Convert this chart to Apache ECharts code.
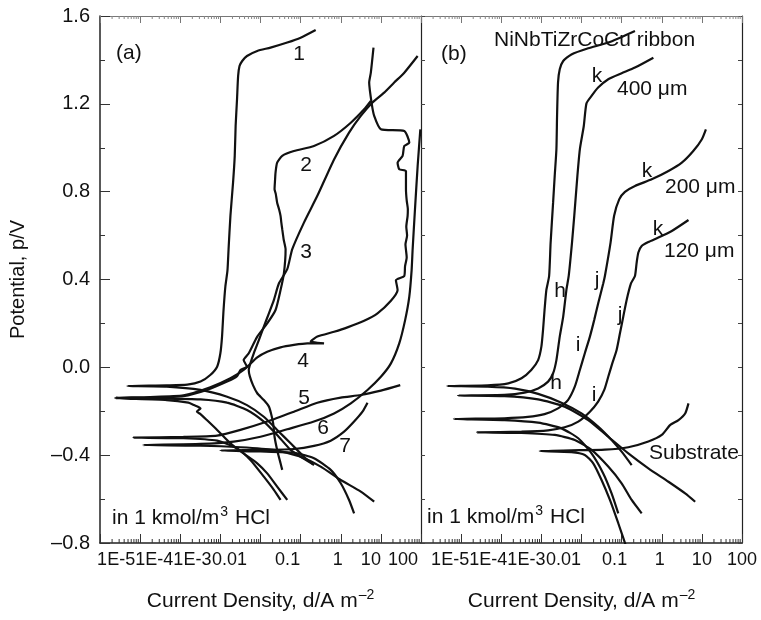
<!DOCTYPE html>
<html>
<head>
<meta charset="utf-8">
<title>Polarization curves</title>
<script src="https://cdn.jsdelivr.net/npm/echarts@6/dist/echarts.min.js"></script>
<style>
  html, body { margin: 0; padding: 0; background: #fff; }
  #chart { width: 761px; height: 620px; }
</style>
</head>
<body>
<div id="chart"></div>
<script>
// every curve is [current density (A/m2), potential (V)] in drawing order:
// cathodic tail -> corrosion potential -> anodic end

// panel (a)
const curveA1 = [
  [0.215, -0.445], [0.121, -0.407], [0.0562, -0.346], [0.026, -0.285], [0.0121, -0.225], [4.6e-3, -0.172],
  [1.47e-3, -0.134], [3.2e-4, -0.103], [4.6e-5, -0.088], [4.8e-6, -0.085],
  [4.6e-5, -0.082], [1.5e-4, -0.079], [3.2e-4, -0.065], [5.6e-4, -0.035], [8.3e-4, 0.003], [1.0e-3, 0.064],
  [1.1e-3, 0.14], [1.2e-3, 0.261], [1.33e-3, 0.367], [1.5e-3, 0.44], [1.6e-3, 0.538], [1.78e-3, 0.69],
  [2.07e-3, 0.841], [2.28e-3, 0.963], [2.4e-3, 1.099], [2.6e-3, 1.221], [2.77e-3, 1.327], [3.0e-3, 1.372],
  [3.5e-3, 1.395], [4.6e-3, 1.418], [8.3e-3, 1.441], [0.0178, 1.456], [0.0464, 1.479], [0.1, 1.501], [0.237, 1.536]
];
const curveA2 = [
  [0.0464, -0.604], [0.026, -0.543], [0.0147, -0.483], [8.3e-3, -0.437], [3.8e-3, -0.392], [1.78e-3, -0.346],
  [8.3e-4, -0.285], [4.6e-4, -0.24], [3.2e-4, -0.213], [2.6e-4, -0.202], [3.2e-4, -0.187], [2.2e-4, -0.172],
  [1.6e-4, -0.161], [4.6e-5, -0.149], [2.4e-6, -0.141],
  [1.8e-5, -0.138], [1.2e-4, -0.131], [4.6e-4, -0.103], [1.47e-3, -0.065], [2.6e-3, -0.04], [3.16e-3, -0.012],
  [4.6e-3, 0.003], [3.8e-3, 0.033], [5.1e-3, 0.064], [8.3e-3, 0.14], [0.0147, 0.2], [0.0237, 0.261],
  [0.0316, 0.352], [0.0383, 0.428], [0.0422, 0.538], [0.038, 0.58], [0.0348, 0.629], [0.033, 0.66],
  [0.0316, 0.69], [0.029, 0.72], [0.026, 0.75], [0.024, 0.79], [0.0224, 0.811], [0.023, 0.85],
  [0.0237, 0.887], [0.026, 0.932], [0.0348, 0.963], [0.0681, 0.985], [0.215, 1.008], [0.681, 1.054],
  [1.78, 1.114], [3.83, 1.175], [5.62, 1.213]
];
const curveA3 = [
  [0.0348, -0.467], [0.0316, -0.437], [0.026, -0.376], [0.0224, -0.316], [0.0207, -0.255], [0.0183, -0.21],
  [0.0162, -0.179], [0.0121, -0.149], [8.3e-3, -0.118], [6.5e-3, -0.081], [5.4e-3, -0.04], [5.1e-3, -0.012],
  [5.6e-3, 0.018], [6.8e-3, 0.064], [9.1e-3, 0.124], [0.0121, 0.185], [0.0162, 0.246], [0.0215, 0.306],
  [0.0287, 0.382], [0.0464, 0.447], [0.0619, 0.538], [0.121, 0.659], [0.261, 0.781], [0.681, 0.947],
  [1.61, 1.069], [3.16, 1.145], [6.1, 1.205], [12.1, 1.251], [21.5, 1.297], [38.3, 1.342], [82.5, 1.418]
];
const curveA4 = [
  [0.2, -0.44], [0.1, -0.407], [0.0562, -0.376], [0.026, -0.308], [0.0121, -0.247], [4.6e-3, -0.194],
  [1.47e-3, -0.161], [3.2e-4, -0.146], [4.6e-5, -0.143], [2.4e-6, -0.138],
  [1.8e-5, -0.135], [1.2e-4, -0.128], [5.6e-4, -0.091], [1.78e-3, -0.05], [3.8e-3, -0.012], [8.3e-3, 0.045],
  [0.0147, 0.071], [0.0316, 0.091], [0.0681, 0.102], [0.147, 0.109], [0.383, 0.109], [0.178, 0.118],
  [0.261, 0.14], [0.681, 0.162], [1.47, 0.182], [3.83, 0.212], [8.25, 0.246], [17.8, 0.303], [26.1, 0.352],
  [23.7, 0.397], [38.3, 0.416], [40, 0.46], [44, 0.5], [41, 0.56], [45, 0.6], [43, 0.64], [46.4, 0.69],
  [47, 0.72], [44, 0.76], [42.2, 0.811], [42.2, 0.894], [28.7, 0.902],
  [26.1, 0.932], [34.8, 0.963], [38.3, 1.008], [51.1, 1.023], [38.3, 1.076], [10, 1.084], [6.81, 1.145],
  [5.9, 1.202], [5.11, 1.297], [5.62, 1.342], [6.55, 1.456]
];
const curveA5 = [
  [0.0316, -0.604], [0.0215, -0.558], [0.0121, -0.498], [5.6e-3, -0.422], [2.6e-3, -0.369], [8.3e-4, -0.334],
  [1.2e-4, -0.323], [6.8e-6, -0.32],
  [1.2e-4, -0.317], [8.3e-4, -0.311], [3.16e-3, -0.285], [0.0147, -0.247], [0.0681, -0.202], [0.261, -0.161],
  [1.0, -0.138], [3.16, -0.126], [10, -0.106], [30.4, -0.081]
];
const curveA6 = [
  [6.81, -0.612], [3.16, -0.566], [1.0, -0.513], [0.316, -0.452], [0.1, -0.407], [0.0215, -0.376],
  [3.16e-3, -0.364], [3.2e-4, -0.357], [1.2e-5, -0.354],
  [3.2e-4, -0.349], [2.15e-3, -0.338], [0.01, -0.316], [0.0464, -0.282], [0.215, -0.247], [0.681, -0.21],
  [1.78, -0.164], [4.64, -0.103], [10, -0.043], [17.8, 0.018], [28.7, 0.109], [40.2, 0.215], [51.1, 0.322],
  [58.4, 0.443], [61.9, 0.538], [70.8, 0.72], [82.5, 0.917], [96.3, 1.084]
];
const curveA7 = [
  [2.15, -0.665], [1.61, -0.604], [1.0, -0.528], [0.562, -0.467], [0.215, -0.414], [0.0681, -0.389],
  [0.01, -0.383], [1.0e-3, -0.379],
  [0.01, -0.376], [0.0681, -0.372], [0.215, -0.358], [0.562, -0.334], [1.21, -0.293], [2.15, -0.247],
  [3.48, -0.202], [4.64, -0.161]
];

// panel (b)
const curveRibbon = [
  [0.178, -0.445], [0.1, -0.384], [0.0562, -0.331], [0.026, -0.27], [0.01, -0.21], [3.16e-3, -0.161],
  [8.3e-4, -0.121], [2.2e-4, -0.097], [4.6e-5, -0.088], [4.5e-6, -0.085],
  [4.6e-5, -0.082], [1.5e-4, -0.073], [3.2e-4, -0.05], [5.6e-4, -0.012], [8.3e-4, 0.033], [1.0e-3, 0.094],
  [1.1e-3, 0.17], [1.2e-3, 0.261], [1.33e-3, 0.352], [1.56e-3, 0.416], [1.7e-3, 0.568], [1.96e-3, 0.75],
  [2.15e-3, 0.872], [2.37e-3, 0.993], [2.46e-3, 1.145], [2.6e-3, 1.297], [2.87e-3, 1.357], [3.5e-3, 1.395],
  [5.6e-3, 1.425], [0.0147, 1.453], [0.0464, 1.479], [0.215, 1.532]
];
const curve400 = [
  [6.81, -0.612], [3.83, -0.574], [1.47, -0.521], [0.464, -0.46], [0.147, -0.392], [0.0464, -0.316],
  [0.0147, -0.24], [3.8e-3, -0.179], [8.3e-4, -0.146], [1.2e-4, -0.131], [8.3e-6, -0.128],
  [1.2e-4, -0.125], [3.8e-4, -0.115], [8.3e-4, -0.096], [1.47e-3, -0.065], [1.96e-3, -0.027], [2.37e-3, 0.033],
  [2.87e-3, 0.14], [3.5e-3, 0.231], [4.2e-3, 0.352], [4.8e-3, 0.416], [5.8e-3, 0.568], [6.6e-3, 0.69],
  [7.9e-3, 0.872], [9.1e-3, 0.993], [0.0114, 1.099], [0.0133, 1.202], [0.0178, 1.236], [0.026, 1.274],
  [0.0464, 1.312], [0.1, 1.339], [0.215, 1.365], [0.619, 1.41]
];
const curve200 = [
  [0.0825, -0.665], [0.0562, -0.574], [0.0348, -0.483], [0.0178, -0.392], [8.3e-3, -0.323], [3.16e-3, -0.278],
  [8.3e-4, -0.252], [1.2e-4, -0.24], [6.6e-6, -0.235],
  [1.2e-4, -0.232], [4.6e-4, -0.226], [1.2e-3, -0.213], [2.6e-3, -0.187], [4.6e-3, -0.149], [6.8e-3, -0.088],
  [9.1e-3, -0.012], [0.0121, 0.064], [0.0162, 0.14], [0.0207, 0.215], [0.026, 0.291], [0.0348, 0.382],
  [0.0383, 0.416], [0.053, 0.568], [0.065, 0.69], [0.087, 0.765], [0.121, 0.799], [0.215, 0.826],
  [0.562, 0.856], [1.47, 0.894], [3.16, 0.932], [6.1, 0.985], [10, 1.039], [12.6, 1.084]
];
const curve120 = [
  [0.316, -0.665], [0.178, -0.604], [0.1, -0.528], [0.0464, -0.452], [0.0178, -0.376], [6.8e-3, -0.331],
  [2.15e-3, -0.308], [3.2e-4, -0.299], [2.5e-5, -0.296],
  [3.2e-4, -0.293], [1.47e-3, -0.287], [3.8e-3, -0.273], [8.3e-3, -0.247], [0.0162, -0.202], [0.026, -0.156],
  [0.0369, -0.103], [0.0464, -0.043], [0.0585, 0.018], [0.075, 0.079], [0.0908, 0.155], [0.11, 0.231],
  [0.133, 0.306], [0.171, 0.382], [0.215, 0.416], [0.237, 0.477], [0.261, 0.523], [0.316, 0.553],
  [0.464, 0.571], [0.825, 0.591], [1.78, 0.621], [4.64, 0.671]
];
const curveSubstrate = [
  [0.147, -0.847], [0.126, -0.809], [0.0825, -0.71], [0.0511, -0.604], [0.0316, -0.513], [0.0196, -0.437],
  [0.0121, -0.399], [5.6e-3, -0.386], [9.1e-4, -0.381],
  [5.6e-3, -0.378], [0.0383, -0.375], [0.147, -0.364], [0.464, -0.338], [1.0, -0.308], [1.61, -0.263],
  [2.61, -0.24], [3.83, -0.21], [4.64, -0.164]
];

// axis labels, one per decade starting at 1E-6
const xTickLabels = ['', '1E-5', '1E-4', '1E-3', '0.01', '0.1', '1', '10', '100'];
const minorSteps = [2, 3, 4, 5, 6, 7, 8, 9];

const FONT = '"Liberation Sans", Arial, Helvetica, sans-serif';
const INK = '#111111';

// the figure's tick labels sit a little left of their ticks
const labelShiftA = [0, 24, 26, 28, 31, 13, 3, 10, 18];
const labelShiftB = [0, 11, 13, 15, 18, 7, 2, 0, 0];

function tickRich(shifts) {
  const rich = {};
  shifts.forEach((s, k) => {
    rich['s' + k] = { fontSize: 18, fontFamily: FONT, color: INK, padding: [0, 2 * s, 0, 0] };
  });
  return rich;
}

const xName = 'Current Density, d/A m{sup|\u20132}';
const xNameStyle = {
  fontSize: 21, fontFamily: FONT, color: INK,
  rich: {
    sup: { fontSize: 14, fontFamily: FONT, color: INK, padding: [0, 0, 12, 1] }
  }
};

function bottomAxis(grid, shifts) {
  return {
    gridIndex: grid, type: 'log', logBase: 10, min: 1e-6, max: 100, splitNumber: 8,
    position: 'bottom',
    axisLine: { show: true, onZero: false, lineStyle: { color: '#222', width: 1.5 } },
    axisTick: { show: true, inside: true, length: 9, lineStyle: { color: '#333', width: 1 } },
    splitLine: { show: false },
    axisLabel: {
      show: true, margin: 8, fontSize: 18, fontFamily: FONT, color: INK,
      formatter: v => {
        const k = Math.round(Math.log10(v)) + 6;
        const t = xTickLabels[k];
        return t ? '{s' + k + '|' + t + '}' : '';
      },
      rich: tickRich(shifts)
    },
    name: xName, nameLocation: 'middle', nameGap: 45, nameTextStyle: xNameStyle
  };
}

function topAxis(grid) {
  return {
    gridIndex: grid, type: 'log', logBase: 10, min: 1e-6, max: 100, splitNumber: 8,
    position: 'top',
    axisLine: { show: true, onZero: false, lineStyle: { color: '#777', width: 1 } },
    axisTick: { show: true, inside: true, length: 7, lineStyle: { color: '#777', width: 1 } },
    splitLine: { show: false },
    axisLabel: { show: false }
  };
}

function sideAxis(grid, pos) {
  return {
    gridIndex: grid, type: 'value', min: -0.8, max: 1.6, interval: 0.2, position: pos,
    axisLine: { show: true, onZero: false, lineStyle: { color: '#222', width: 1.2 } },
    axisTick: { show: true, inside: true, length: 4, lineStyle: { color: '#444', width: 1 } },
    splitLine: { show: false },
    axisLabel: { show: false }
  };
}

function curve(name, data, panel) {
  return {
    name: name, type: 'line', xAxisIndex: panel, yAxisIndex: panel,
    data: data, showSymbol: false, symbol: 'none', smooth: 0.2,
    lineStyle: { color: INK, width: 2.2 }, silent: true, z: 3
  };
}

function minorTicks(panel) {
  return {
    type: 'custom', xAxisIndex: panel, yAxisIndex: panel, silent: true, clip: false,
    data: [[1, 0]],
    renderItem: (params, api) => {
      const children = [];
      for (let e = -6; e < 2; e++) {
        minorSteps.forEach(m => {
          const v = m * Math.pow(10, e);
          const b = api.coord([v, -0.8]);
          const t = api.coord([v, 1.6]);
          children.push({ type: 'line', shape: { x1: b[0], y1: b[1], x2: b[0], y2: b[1] - 4 },
            style: { stroke: '#333', lineWidth: 1 } });
          children.push({ type: 'line', shape: { x1: t[0], y1: t[1], x2: t[0], y2: t[1] + 3 },
            style: { stroke: '#888', lineWidth: 1 } });
        });
      }
      return { type: 'group', children: children };
    }
  };
}

const hclText = '{n|in 1 kmol/m}{s|3}{n| HCl}';

// text placed on the figure: [text, x, y, align]
const notes = [
  ['(a)', 116, 53, 'left'], ['1', 299, 54, 'center'], ['2', 306, 165, 'center'], ['3', 306, 252, 'center'],
  ['4', 303, 361, 'center'], ['5', 304, 398, 'center'], ['6', 323, 428, 'center'], ['7', 345, 446, 'center'],
  [hclText, 112, 518, 'left'],
  ['(b)', 441, 54, 'left'], ['NiNbTiZrCoCu ribbon', 494, 40, 'left'],
  ['k', 597, 76, 'center'], ['400 \u03bcm', 617, 89, 'left'],
  ['k', 647, 171, 'center'], ['200 \u03bcm', 665, 187, 'left'],
  ['k', 658, 229, 'center'], ['120 \u03bcm', 664, 251, 'left'],
  ['h', 560, 291, 'center'], ['j', 597, 280, 'center'], ['j', 620, 315, 'center'],
  ['i', 578, 345, 'center'], ['h', 556, 383, 'center'], ['i', 594, 395, 'center'],
  ['Substrate', 649, 453, 'left'],
  [hclText, 427, 517, 'left']
];

const noteRich = {
  n: { fontSize: 21, fontFamily: FONT, fill: INK, color: INK },
  s: { fontSize: 14, fontFamily: FONT, fill: INK, color: INK, padding: [0, 1, 12, 1] }
};

const chart = echarts.init(document.getElementById('chart'), null, { renderer: 'canvas' });

chart.setOption({
  backgroundColor: '#ffffff',
  animation: false,
  textStyle: { fontFamily: FONT },
  grid: [
    { left: 100, top: 16, width: 321, height: 527, show: false },
    { left: 421, top: 16, width: 321, height: 527, show: false }
  ],
  xAxis: [bottomAxis(0, labelShiftA), bottomAxis(1, labelShiftB), topAxis(0), topAxis(1)],
  yAxis: [
    {
      gridIndex: 0, type: 'value', min: -0.8, max: 1.6, interval: 0.4, position: 'left',
      axisLine: { show: true, onZero: false, lineStyle: { color: '#222', width: 1.5 } },
      axisTick: { show: true, inside: true, length: 10, lineStyle: { color: '#333', width: 1 } },
      minorTick: { show: true, splitNumber: 2, length: 5, lineStyle: { color: '#333', width: 1 } },
      splitLine: { show: false },
      axisLabel: {
        margin: 10, fontSize: 20, fontFamily: FONT, color: INK,
        formatter: v => Math.abs(v) < 1e-9 ? '0.0' : v.toFixed(1).replace('-', '\u2013')
      },
      name: 'Potential, p/V', nameLocation: 'middle', nameGap: 72,
      nameTextStyle: { fontSize: 20, fontFamily: FONT, color: INK }
    },
    sideAxis(1, 'left'),
    sideAxis(1, 'right')
  ],
  series: [
    curve('1', curveA1, 0), curve('2', curveA2, 0), curve('3', curveA3, 0), curve('4', curveA4, 0),
    curve('5', curveA5, 0), curve('6', curveA6, 0), curve('7', curveA7, 0),
    curve('NiNbTiZrCoCu ribbon', curveRibbon, 1), curve('400 \u03bcm', curve400, 1),
    curve('200 \u03bcm', curve200, 1), curve('120 \u03bcm', curve120, 1), curve('Substrate', curveSubstrate, 1),
    minorTicks(0), minorTicks(1)
  ],
  graphic: notes.map(n => ({
    type: 'text', x: n[1], y: n[2], silent: true, z: 10,
    style: {
      text: n[0], font: '21px ' + FONT, fill: INK,
      rich: noteRich,
      align: n[3], textAlign: n[3], verticalAlign: 'middle', textVerticalAlign: 'middle'
    }
  }))
});
</script>
</body>
</html>
